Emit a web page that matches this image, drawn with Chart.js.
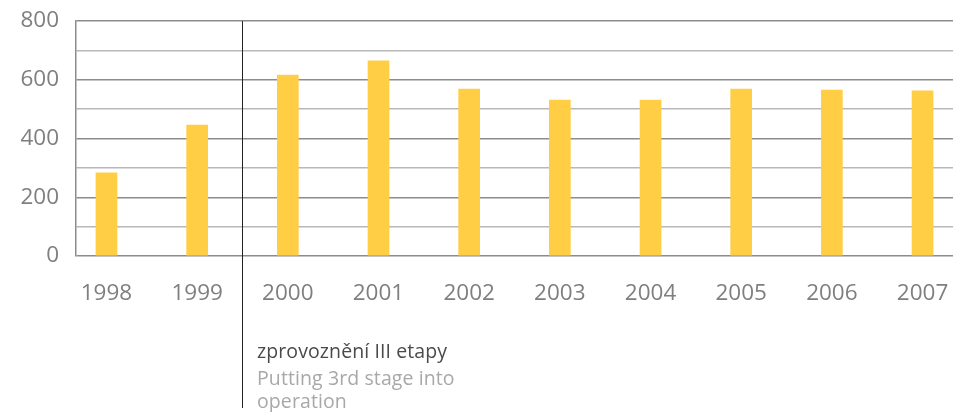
<!DOCTYPE html>
<html>
<head>
<meta charset="utf-8">
<script src="https://cdn.jsdelivr.net/npm/chart.js@4.4.1/dist/chart.umd.min.js"></script>
<style>
  html, body { margin: 0; padding: 0; background: #fff; }
  #wrap { position: relative; width: 955px; height: 412px; }
  #c { position: absolute; left: 0; top: 0; }
  .note { position: absolute; left: 257px; font-family: "Open Sans", sans-serif; font-size: 19.5px; line-height: 23px; white-space: nowrap; letter-spacing: 0.1px; }
  #n1 { top: 339px; color: #4a4a4a; }
  #n2 { top: 366px; color: #a8a8a8; }
</style>
</head>
<body>
<div id="wrap">
  <canvas id="c" width="955" height="412"></canvas>
  <div class="note" id="n1">zprovoznění III etapy</div>
  <div class="note" id="n2">Putting 3rd stage into<br>operation</div>
</div>
<script>
const years = ['1998','1999','2000','2001','2002','2003','2004','2005','2006','2007'];
const values = [283, 446, 616, 664, 568, 531, 531, 568, 565, 562];
const yTicks = [0, 200, 400, 600, 800];
const separatorAt = 1.5;

const sepPlugin = {
  id: 'sep',
  afterDraw(chart) {
    const x = Math.round(chart.scales.x.getPixelForValue(separatorAt)) + 0.5;
    const ctx = chart.ctx;
    ctx.save();
    ctx.strokeStyle = '#222';
    ctx.lineWidth = 1;
    ctx.beginPath();
    ctx.moveTo(x, chart.chartArea.top);
    ctx.lineTo(x, 408);
    ctx.stroke();
    ctx.restore();
  }
};

new Chart(document.getElementById('c'), {
  type: 'bar',
  data: {
    datasets: [{
      data: values.map((v, i) => ({ x: i, y: v })),
      backgroundColor: '#FFCE45',
      barThickness: 21
    }]
  },
  options: {
    responsive: false,
    animation: false,
    layout: { padding: { left: 0, right: 2, top: 21, bottom: 0 } },
    plugins: { legend: { display: false }, tooltip: { enabled: false } },
    scales: {
      x: {
        type: 'linear',
        offset: false,
        min: -0.336,
        max: 9.336,
        afterBuildTicks(scale) { scale.ticks = years.map((_, i) => ({ value: i })); },
        afterFit(scale) {
          scale.height = 156;
          scale.paddingLeft = 0; scale.paddingRight = 0;
        },
        grid: { display: false, offset: false },
        border: { display: false },
        ticks: {
          callback: (v) => years[v] ?? '',
          color: '#7f7f7f',
          font: { family: 'Open Sans', size: 22.5 },
          padding: 16,
          maxRotation: 0,
          autoSkip: false
        }
      },
      y: {
        min: 0,
        max: 800,
        afterFit(scale) {
          scale.width = 76;
          scale.paddingTop = 0; scale.paddingBottom = 0;
        },
        afterBuildTicks(scale) {
          const t = [];
          for (let v = 0; v <= 800; v += 100) t.push({ value: v });
          scale.ticks = t;
        },
        grid: {
          color: (c) => (c.tick && c.tick.value % 200 === 0) ? '#8c8c8c' : '#b8b8b8',
          lineWidth: 1.5,
          drawTicks: false
        },
        border: { display: true, color: '#8c8c8c', width: 1.5 },
        ticks: {
          autoSkip: false,
          callback: (v) => yTicks.includes(v) ? String(v) : '',
          color: '#7f7f7f',
          font: { family: 'Open Sans', size: 22.5 },
          padding: 17
        }
      }
    }
  },
  plugins: [sepPlugin]
});
</script>
</body>
</html>
